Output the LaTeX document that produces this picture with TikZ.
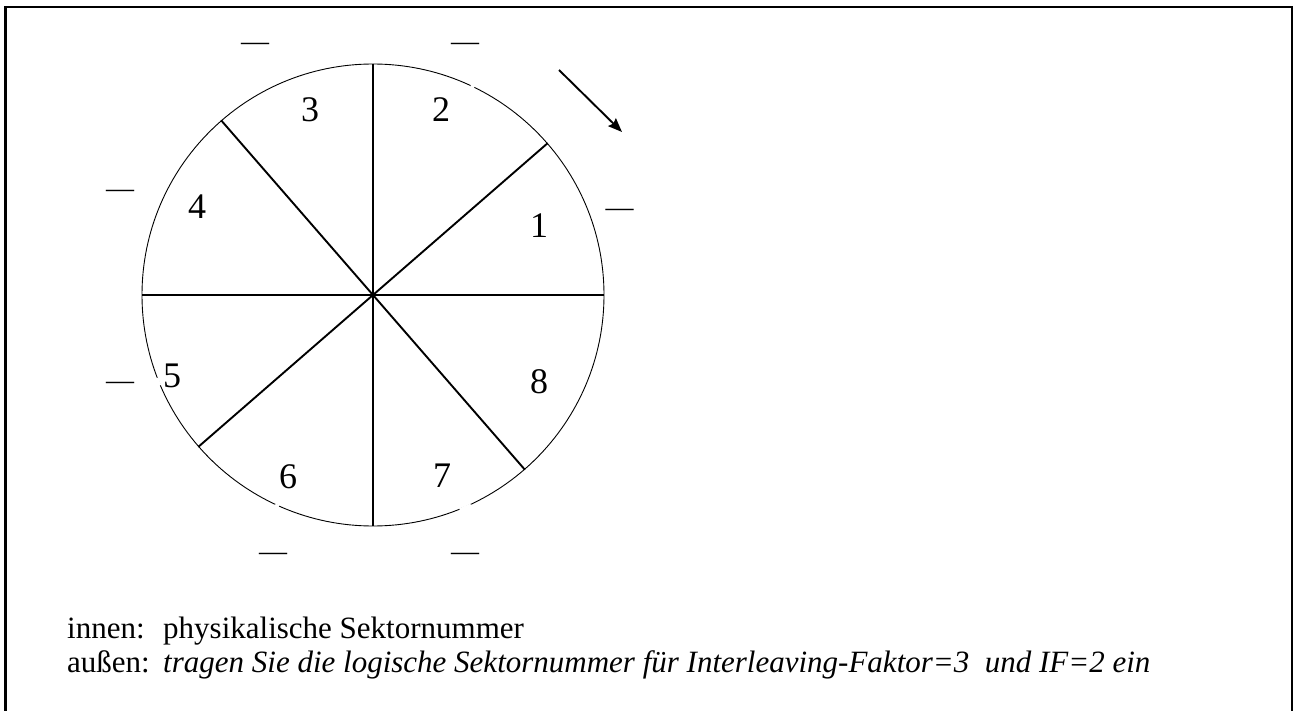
\documentclass[tikz,border=0pt]{standalone}
\usepackage{fontspec}
\setmainfont{Liberation Serif}
\usetikzlibrary{arrows.meta}
\begin{document}
\begin{tikzpicture}[x=1bp,y=-1bp,
  disk/.style={circle,draw,line width=0.9bp,minimum size=462bp,inner sep=0pt},
  spoke/.style={line width=1.9bp},
  gap/.style={white,line width=2.6bp},
  num/.style={inner sep=0pt,font=\fontsize{36bp}{40bp}\selectfont},
  blank/.style={inner sep=0pt,anchor=base,font=\fontsize{28bp}{32bp}\selectfont},
  note/.style={inner sep=0pt,anchor=base west,font=\fontsize{31bp}{34bp}\selectfont},
  frame/.style={line width=2.5bp},
  turn/.style={line width=1.9bp,-{Stealth[length=14bp,width=11bp,inset=2bp]}}]
\clip (0,0) rectangle (1293,711);
\fill[white] (0,0) rectangle (1293,711);
% frame
\coordinate (f1) at (5.3,730);
\coordinate (f2) at (5.3,7.2);
\coordinate (f3) at (1291.8,7.2);
\coordinate (f4) at (1291.8,730);
\draw[frame] (f1) -- (f2) -- (f3) -- (f4);
% disk
\node[disk] (c) at (373,295) {};
\draw[gap] (c.64.4) -- (c.65.8);
\draw[gap] (c.201.8) -- (c.203.6);
\draw[gap] (c.245.1) -- (c.246.5);
\draw[gap] (c.292.6) -- (c.295.0);
\draw[spoke] (c.90) -- (c.270);
\draw[spoke] (c.0) -- (c.180);
\draw[spoke] (c.131.9) -- (c.311.9);
\draw[spoke] (c.41.5) -- (c.221.5);
% physical sector numbers
\node[num] (n3) at (310,110) {3};
\node[num] (n2) at (441,110) {2};
\node[num] (n4) at (197,207) {4};
\node[num] (n1) at (539,226) {1};
\node[num] (n5) at (172,376) {5};
\node[num] (n8) at (539,382) {8};
\node[num] (n6) at (288,477) {6};
\node[num] (n7) at (442,476) {7};
% blanks for logical numbers
\node[blank] (b3) at (255,50.5) {—};
\node[blank] (b2) at (465,50.5) {—};
\node[blank] (b4) at (120,197.5) {—};
\node[blank] (b1) at (619.5,216.5) {—};
\node[blank] (b5) at (120,389.5) {—};
\node[blank] (b6) at (273,560.5) {—};
\node[blank] (b7) at (465,560.5) {—};
% rotation arrow
\coordinate (a1) at (559,70);
\coordinate (a2) at (622,132);
\draw[turn] (a1) -- (a2);
% legend
\node[note] (l1) at (67,638) {innen:};
\node[note] (t1) at (163,638) {physikalische Sektornummer};
\node[note] (l2) at (67,672) {außen:};
\node[note] (t2) at (163,672) {\itshape tragen Sie die logische Sektornummer für Interleaving-Faktor=3\ \ und IF=2 ein};
\end{tikzpicture}
\end{document}
